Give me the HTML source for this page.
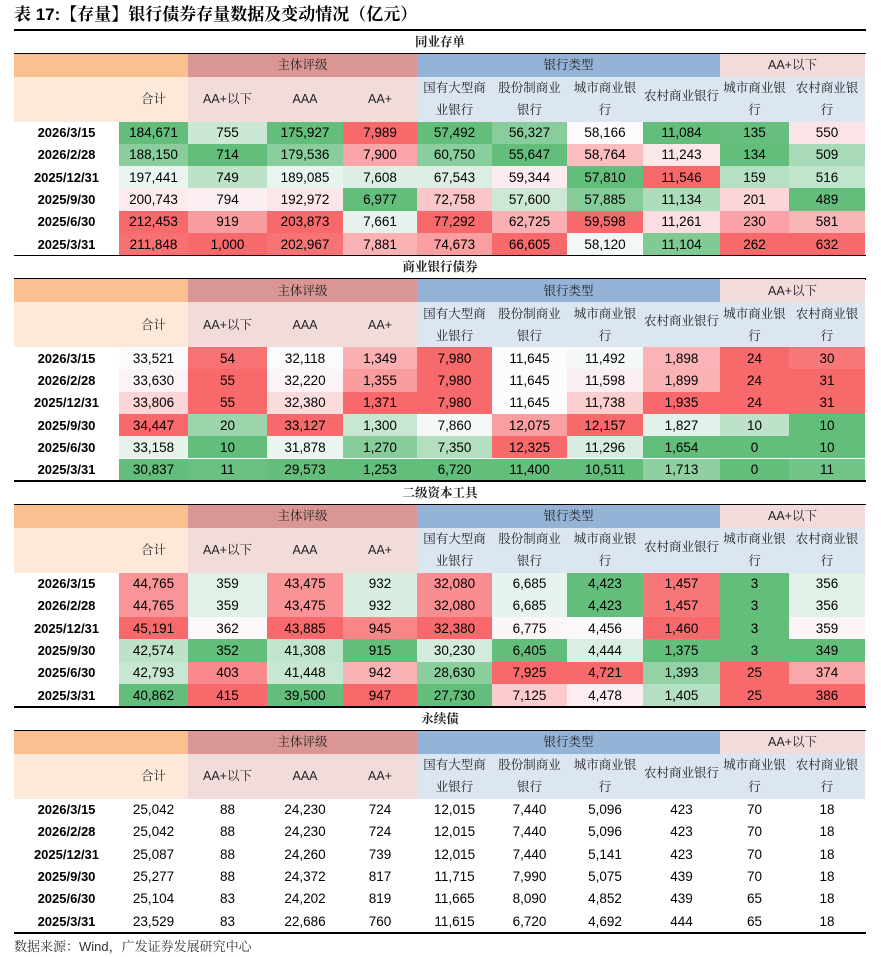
<!DOCTYPE html>
<html><head><meta charset="utf-8">
<style>
html,body{margin:0;padding:0;background:#fff;}
body{width:881px;height:957px;position:relative;overflow:hidden;font-family:"Liberation Sans","Noto Sans CJK SC",sans-serif;color:#000;}
.a{position:absolute;box-sizing:border-box;}
.c{display:flex;align-items:center;justify-content:center;text-align:center;}
.cn{font-family:"Liberation Sans","Noto Serif CJK SC",serif;font-size:12.5px;line-height:22px;color:#222;}
.num{font-size:13.5px;}
.date{font-size:13px;font-weight:bold;}
.line{position:absolute;left:14px;width:852px;background:#000;}
</style></head>
<body>
<div class="a" style="left:14px;top:4px;font-family:'Liberation Sans','Noto Serif CJK SC',serif;font-weight:bold;font-size:17px;line-height:22px;">表 17:【存量】银行债券存量数据及变动情况（亿元）</div>
<div id="root"></div>
<div class="a" style="left:14px;top:936px;font-family:'Liberation Sans','Noto Serif CJK SC',serif;font-size:13px;color:#333;">数据来源：Wind，广发证券发展研究中心</div>
<script>
const sectionTitles = ["同业存单","商业银行债券","二级资本工具","永续债"];
const dates = ["2026/3/15","2026/2/28","2025/12/31","2025/9/30","2025/6/30","2025/3/31"];
const ncdValues = [
[184671,755,175927,7989,57492,56327,58166,11084,135,550],
[188150,714,179536,7900,60750,55647,58764,11243,134,509],
[197441,749,189085,7608,67543,59344,57810,11546,159,516],
[200743,794,192972,6977,72758,57600,57885,11134,201,489],
[212453,919,203873,7661,77292,62725,59598,11261,230,581],
[211848,1000,202967,7881,74673,66605,58120,11104,262,632]];
const bankBondValues = [
[33521,54,32118,1349,7980,11645,11492,1898,24,30],
[33630,55,32220,1355,7980,11645,11598,1899,24,31],
[33806,55,32380,1371,7980,11645,11738,1935,24,31],
[34447,20,33127,1300,7860,12075,12157,1827,10,10],
[33158,10,31878,1270,7350,12325,11296,1654,0,10],
[30837,11,29573,1253,6720,11400,10511,1713,0,11]];
const tier2Values = [
[44765,359,43475,932,32080,6685,4423,1457,3,356],
[44765,359,43475,932,32080,6685,4423,1457,3,356],
[45191,362,43885,945,32380,6775,4456,1460,3,359],
[42574,352,41308,915,30230,6405,4444,1375,3,349],
[42793,403,41448,942,28630,7925,4721,1393,25,374],
[40862,415,39500,947,27730,7125,4478,1405,25,386]];
const perpValues = [
[25042,88,24230,724,12015,7440,5096,423,70,18],
[25042,88,24230,724,12015,7440,5096,423,70,18],
[25087,88,24260,739,12015,7440,5141,423,70,18],
[25277,88,24372,817,11715,7990,5075,439,70,18],
[25104,83,24202,819,11665,8090,4852,439,65,18],
[23529,83,22686,760,11615,6720,4692,444,65,18]];
const sectionData = [ncdValues, bankBondValues, tier2Values, perpValues];
const sectionHeat = [true,true,true,false];
const subHeaders = ["合计","AA+以下","AAA","AA+","国有大型商<br>业银行","股份制商业<br>银行","城市商业银<br>行","农村商业银行","城市商业银<br>行","农村商业银<br>行"];
const groupHeaders = ["主体评级","银行类型","AA+以下"];

const X = [14,119,188,267,343,417,492,567,643,720,789,865];
const TOPS = [30,255.5,481,707];
const TH=23.5, H1=23, H2=45, RH=22.3;
const root = document.getElementById('root');
function box(l,t,w,h,bg,cls,html){
  const d=document.createElement('div');
  d.className='a c '+(cls||'');
  d.style.left=l+'px';d.style.top=t+'px';d.style.width=w+'px';d.style.height=h+'px';
  if(bg) d.style.background=bg;
  if(html!==undefined) d.innerHTML=html;
  root.appendChild(d);return d;
}
function line(t,h){const d=document.createElement('div');d.className='line';d.style.top=t+'px';d.style.height=h+'px';


root.appendChild(d);}
const G=[99,190,123], W=[252,252,255], R=[248,105,107];
function mix(a,b,t){return 'rgb('+a.map((v,i)=>Math.round(v+(b[i]-v)*t)).join(',')+')';}
function heat(col,v){
  const s=[...col].sort((a,b)=>a-b);const mn=s[0],mx=s[s.length-1];
  const md=(s[2]+s[3])/2;
  if(mx===mn) return mix(W,W,0);
  if(v<=md){ if(md===mn) return mix(W,G,1); return mix(W,G,(md-v)/(md-mn)); }
  if(mx===md) return mix(W,R,1);
  return mix(W,R,(v-md)/(mx-md));
}
sectionTitles.forEach((title,si)=>{
  const top=TOPS[si];
  line(top-0.75,1.5);
  const tt=box(14,top,852,TH,null,'cn','<b>'+title+'</b>');
  
  
  const y1=top+TH;
  line(y1-0.75,1.5);
  const g0=box(X[0],y1,X[2]-X[0],H1,'#FAC090');
  
  
  const gdefs=[[2,5,'#DA9694'],[5,9,'#95B3D7'],[9,11,'#F2DCDB']];
  gdefs.forEach((g,gi)=>{
    const el=box(X[g[0]],y1,X[g[1]]-X[g[0]],H1,g[2],'cn',groupHeaders[gi]);
    
    
  });
  const y2=y1+H1;
  const sb=box(X[0],y2,X[1]-X[0],H2,'#FDE9D9');
  
  
  subHeaders.forEach((h,ci)=>{
    const bg=ci===0?'#FDE9D9':(ci<=3?'#F2DCDB':'#DCE6F1');
    const el=box(X[ci+1],y2,X[ci+2]-X[ci+1],H2,bg,'cn',h);
    if(ci===7) el.style.alignItems='flex-start', el.style.paddingTop='8px';
    
    
  });
  const y3=y2+H2;
  const data=sectionData[si];
  dates.forEach((d,ri)=>{
    const ry=y3+ri*RH;
    const de=box(X[0],ry,X[1]-X[0],RH,null,'date',d);
    
    
    data[ri].forEach((v,ci)=>{
      const col=data.map(r=>r[ci]);
      const bg=sectionHeat[si]?heat(col,v):null;
      const el=box(X[ci+1],ry,X[ci+2]-X[ci+1],RH,bg,'num',v.toLocaleString('en-US'));
      
      
    });
  });
  if(si===3) line(y3+6*RH,1.5);
});
line(255.5-0.75,0);
</script>
</body></html>
